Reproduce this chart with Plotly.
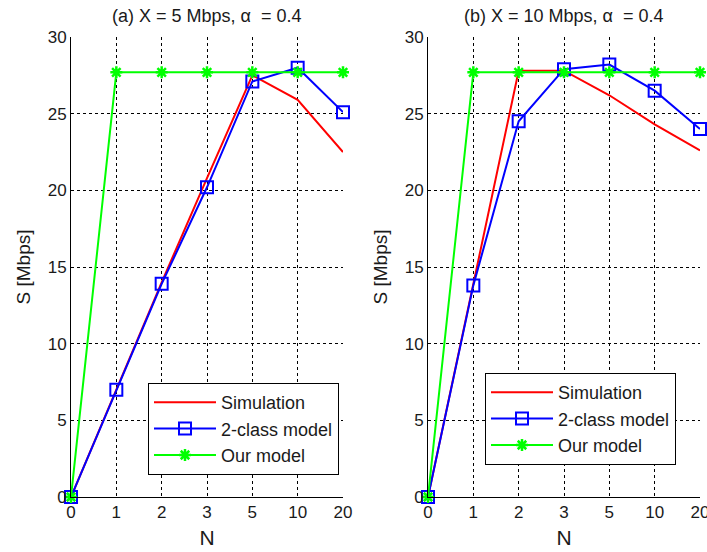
import plotly.graph_objects as go

categories = ["0", "1", "2", "3", "5", "10", "20"]
y_ticks = [0, 5, 10, 15, 20, 25, 30]

sim_a = [0, 7.0, 14.0, 20.8, 27.5, 25.9, 22.5]
two_class_a = [0, 7.0, 13.9, 20.2, 27.1, 28.0, 25.1]
our_a = [0, 27.7, 27.7, 27.7, 27.7, 27.7, 27.7]

sim_b = [0, 13.9, 27.8, 27.8, 26.2, 24.3, 22.6]
two_class_b = [0, 13.8, 24.5, 27.9, 28.2, 26.5, 24.0]
our_b = [0, 27.7, 27.7, 27.7, 27.7, 27.7, 27.7]

title_a = "(a) X = 5 Mbps, α  = 0.4"
title_b = "(b) X = 10 Mbps, α  = 0.4"

W, H = 707, 552
FONT = "Liberation Sans, Arial, sans-serif"
TXT = "#1a1a1a"

fig = go.Figure()

def add_series(xa, ya, legend, sim, two, our):
    fig.add_trace(go.Scatter(x=categories, y=sim, mode="lines", name="Simulation",
                             line=dict(color="#ff0000", width=2), xaxis=xa, yaxis=ya,
                             legend=legend, cliponaxis=False))
    fig.add_trace(go.Scatter(x=categories, y=two, mode="lines+markers", name="2-class model",
                             line=dict(color="#0000ff", width=2),
                             marker=dict(symbol="square-open", size=12, color="#0000ff",
                                         line=dict(width=2, color="#0000ff")),
                             xaxis=xa, yaxis=ya, legend=legend, cliponaxis=False))
    fig.add_trace(go.Scatter(x=categories, y=our, mode="lines+markers", name="Our model",
                             line=dict(color="#00ff00", width=2),
                             marker=dict(symbol="asterisk-open", size=10, color="#00ff00",
                                         line=dict(width=2.5, color="#00ff00")),
                             xaxis=xa, yaxis=ya, legend=legend, cliponaxis=False))

add_series("x", "y", "legend", sim_a, two_class_a, our_a)
add_series("x2", "y2", "legend2", sim_b, two_class_b, our_b)

y0 = 1 - 497 / H
y1 = 1 - 37 / H

xaxis_common = dict(type="category", range=[0, 6], showgrid=True, griddash="3px,3px",
                    gridcolor="black", gridwidth=1, showline=True, linecolor="black",
                    linewidth=1, mirror=False, ticks="", zeroline=False, automargin=False,
                    tickfont=dict(family=FONT, size=17, color=TXT),
                    title=dict(text="N", font=dict(family=FONT, size=21, color=TXT), standoff=8))
yaxis_common = dict(range=[0, 30], tickvals=y_ticks, showgrid=True, griddash="3px,3px",
                    gridcolor="black", gridwidth=1, showline=True, linecolor="black",
                    linewidth=1, ticks="", zeroline=False, automargin=False,
                    tickfont=dict(family=FONT, size=17, color=TXT),
                    title=dict(text="S [Mbps]", font=dict(family=FONT, size=19, color=TXT), standoff=12))

legend_common = dict(xanchor="left", yanchor="top", bgcolor="white", bordercolor="black",
                     borderwidth=1, font=dict(family=FONT, size=18, color=TXT),
                     itemwidth=62, tracegroupgap=0)

fig.update_layout(
    width=W, height=H, margin=dict(l=0, r=0, t=0, b=0, autoexpand=False),
    paper_bgcolor="white", plot_bgcolor="white",
    xaxis=dict(xaxis_common, domain=[71 / W, 343 / W], anchor="y"),
    yaxis=dict(yaxis_common, domain=[y0, y1], anchor="x"),
    xaxis2=dict(xaxis_common, domain=[428 / W, 700 / W], anchor="y2"),
    yaxis2=dict(yaxis_common, domain=[y0, y1], anchor="x2"),
    legend=dict(legend_common, x=148 / W, y=1 - 383 / H),
    legend2=dict(legend_common, x=485 / W, y=1 - 373 / H),
    annotations=[
        dict(text=title_a, x=207 / W, y=1 - 16 / H, xref="paper", yref="paper",
             xanchor="center", yanchor="middle",
             showarrow=False, font=dict(family=FONT, size=18, color=TXT)),
        dict(text=title_b, x=564 / W, y=1 - 16 / H, xref="paper", yref="paper",
             xanchor="center", yanchor="middle",
             showarrow=False, font=dict(family=FONT, size=18, color=TXT)),
    ],
)

fig.write_html("out.html", config={"displayModeBar": False},
               post_script="document.body.style.margin='0';document.body.style.overflow='hidden';")
